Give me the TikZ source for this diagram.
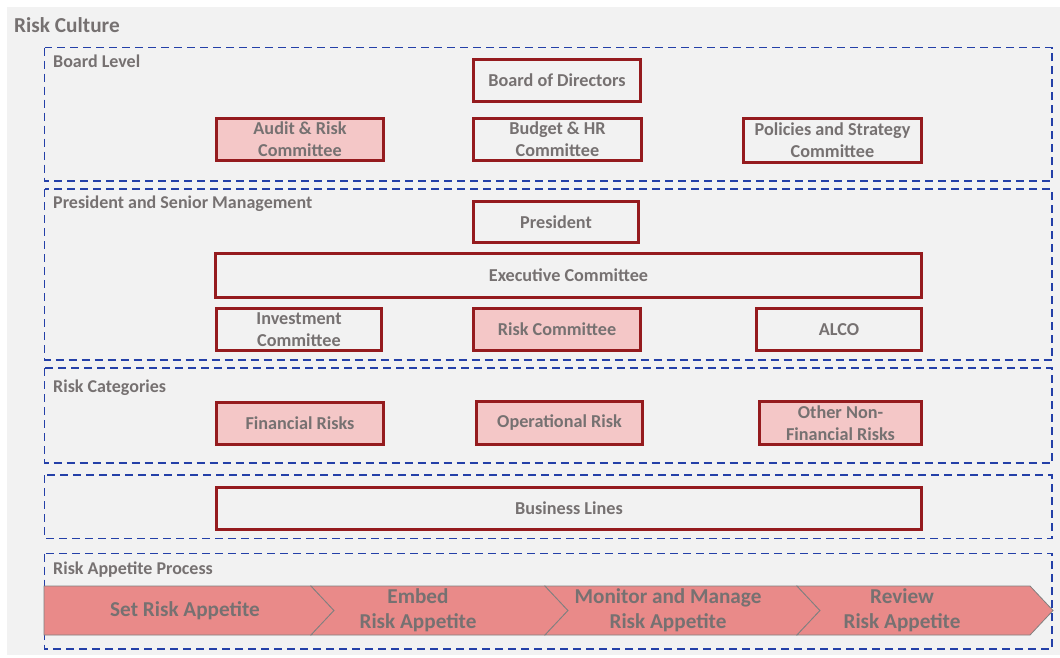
\documentclass[tikz,border=0pt]{standalone}
\usepackage{fontspec}
\setmainfont{Carlito}
\definecolor{panel}{HTML}{F2F2F2}
\definecolor{txt}{HTML}{767171}
\definecolor{grpblue}{HTML}{2440A8}
\definecolor{unitred}{HTML}{951B1E}
\definecolor{pinkfill}{HTML}{F4C7C7}
\definecolor{salmon}{HTML}{E98A89}
\begin{document}
\begin{tikzpicture}[x=1pt,y=-1pt,line join=miter,
    grp/.style={draw=grpblue,line width=1.5pt,dash pattern=on 8pt off 5pt},
    grplabel/.style={anchor=west,text=txt,inner sep=0pt,font=\bfseries\fontsize{18}{20}\selectfont},
    unit/.style={draw=unitred,line width=3pt,text=txt,align=center,inner sep=0pt,
      font=\bfseries\fontsize{18.2}{22}\selectfont},
    hot/.style={unit,fill=pinkfill},
    phase/.style={text=txt,align=center,inner sep=0pt,font=\bfseries\fontsize{21.2}{25}\selectfont}]
  \useasboundingbox (0,0) rectangle (1060,657);
  \fill[panel] (7,7) rectangle (1060,655);
  \node[anchor=west,text=txt,inner sep=0pt,font=\bfseries\fontsize{21.3}{24}\selectfont] (culture) at (14,25) {Risk Culture};

  % groups
  \draw[grp] (44.5,47.5) rectangle (1052,181);
  \draw[grp] (44.5,189) rectangle (1052,360);
  \draw[grp] (44.5,368) rectangle (1052,463);
  \draw[grp] (44.5,475) rectangle (1052,538.5);
  \draw[grp] (44.5,553.5) rectangle (1052,649);
  \node[grplabel] (board) at (53,61.5) {Board Level};
  \node[grplabel] (senior) at (53,203.5) {President and Senior Management};
  \node[grplabel] (cats) at (53,387.5) {Risk Categories};
  \node[grplabel] (process) at (53,569.5) {Risk Appetite Process};

  % board level
  \node[unit,minimum width=167,minimum height=42] (bod) at (557,80.5) {Board of Directors};
  \node[hot,minimum width=167,minimum height=42] (audit) at (300,139.5) {Audit \& Risk\\Committee};
  \node[unit,minimum width=168,minimum height=42] (budget) at (557.5,139.5) {Budget \& HR\\Committee};
  \node[unit,minimum width=178,minimum height=44] (policies) at (832.5,140.5) {Policies and Strategy\\Committee};

  % senior management
  \node[unit,minimum width=165,minimum height=41] (pres) at (556,222) {President};
  \node[unit,minimum width=706,minimum height=44] (exec) at (568.5,275.5) {Executive Committee};
  \node[unit,minimum width=165,minimum height=42] (invest) at (299,329.5) {Investment\\Committee};
  \node[hot,minimum width=167,minimum height=42] (riskc) at (557,329.5) {Risk Committee};
  \node[unit,minimum width=165,minimum height=42] (alco) at (839,329.5) {ALCO};

  % categories
  \node[hot,minimum width=167,minimum height=42] (fin) at (300,423.5) {Financial Risks};
  \node[hot,minimum width=166,minimum height=43] (oper) at (559.5,423) {Operational Risk};
  \node[hot,minimum width=162,minimum height=43] (other) at (840.5,423) {Other Non-\\Financial Risks};

  \node[unit,minimum width=705,minimum height=42] (lines) at (569,508.5) {Business Lines};

  % appetite process
  \draw[fill=salmon,draw=gray,line width=0.8pt] (44,586)--(311,586)--(334,610.5)--(311,635)--(44,635)--cycle;
  \foreach \a/\b in {311/545,545/797,797/1030}
    \draw[fill=salmon,draw=gray,line width=0.8pt] (\a,586)--(\b,586)--(\b+23,610.5)--(\b,635)--(\a,635)--(\a+23,610.5)--cycle;
  \node[phase] (set) at (185,610.5) {Set Risk Appetite};
  \node[phase] (embed) at (418,610.5) {Embed\\Risk Appetite};
  \node[phase] (monitor) at (668,610.5) {Monitor and Manage\\Risk Appetite};
  \node[phase] (review) at (902,610.5) {Review\\Risk Appetite};
\end{tikzpicture}
\end{document}
